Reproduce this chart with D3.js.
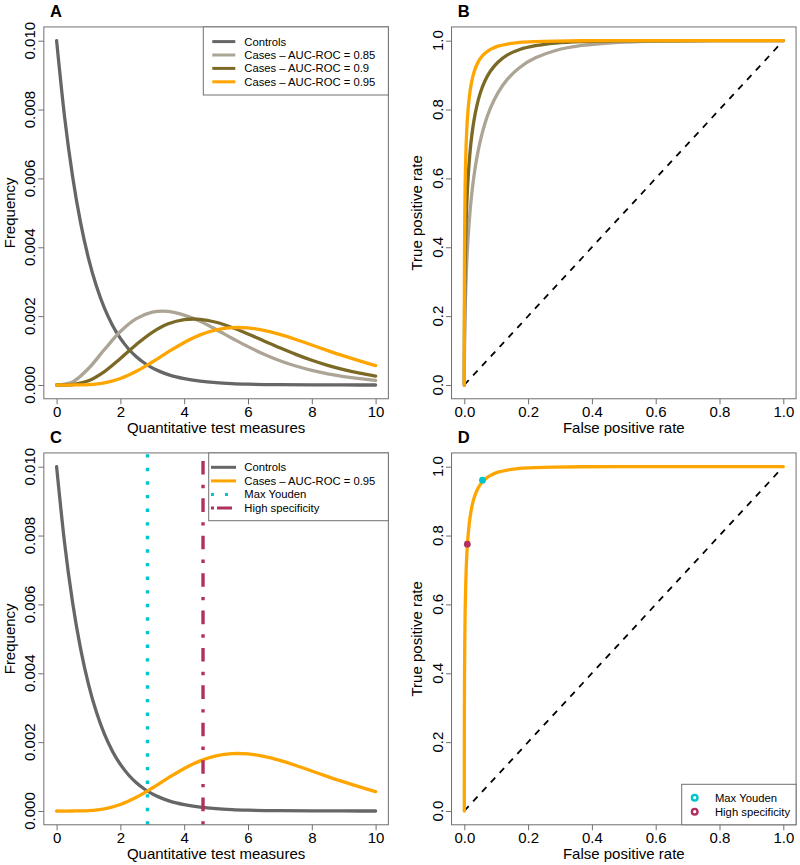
<!DOCTYPE html>
<html><head><meta charset="utf-8">
<script src="https://cdn.jsdelivr.net/npm/d3@7"></script>
<style>
body{margin:0;background:#fff}
svg{display:block}
text{font-family:"Liberation Sans",Arial,Helvetica,sans-serif}
</style>
</head><body>
<svg id="chart" width="800" height="865"></svg>
<script>
// ---------------- DATA ----------------
// Density panels (A, C)
const controlsX = [0,0.25,0.5,0.75,1,1.25,1.5,1.75,2,2.25,2.5,2.75,3,3.25,3.5,3.75,4,4.5,5,5.5,6,7,8,9,10];
const controls  = [0.01,0.007788,0.006065,0.004724,0.003679,0.002865,0.002231,0.001738,0.001353,0.001054,0.000821,0.000639,0.000498,0.000388,0.000302,0.000235,0.000183,0.000111,0.000067,0.000041,0.000025,0.000009,0.000003,0.000001,0.0000005];
const casesX    = [0,0.5,1,1.5,2,2.5,3,3.5,4,4.5,5,5.5,6,6.5,7,7.5,8,8.5,9,9.5,10];
const cases085  = [0,0.000090,0.000480,0.001030,0.001552,0.001926,0.002118,0.002140,0.002030,0.001850,0.001610,0.001360,0.001115,0.000895,0.000706,0.000551,0.000425,0.000323,0.000244,0.000182,0.000135];
const cases090  = [0,0.000012,0.000123,0.000389,0.000770,0.001178,0.001531,0.001778,0.001900,0.001908,0.001822,0.001671,0.001484,0.001281,0.001080,0.000890,0.000718,0.000570,0.000445,0.000343,0.000258];
const cases095  = [0,0.000000,0.000011,0.000063,0.000189,0.000398,0.000668,0.000962,0.001236,0.001456,0.001600,0.001665,0.001657,0.001586,0.001468,0.001323,0.001162,0.001000,0.000844,0.000700,0.000565];
const densXTicks = [0,2,4,6,8,10];
const densYTicks = [0,0.002,0.004,0.006,0.008,0.010];

// ROC panels (B, D)
const rocFPR    = [1,0.7788,0.6065,0.4724,0.3679,0.2865,0.2231,0.1738,0.1353,0.1054,0.0821,0.0639,0.0498,0.0388,0.0302,0.0235,0.0183,0.0111,0.0067,0.0041,0.0025,0.0009,0.0003,0.0001,0.00005,0.000006,0];
const roc085TPR = [1,1.0000,0.9989,0.9947,0.9861,0.9716,0.9502,0.9223,0.8883,0.8487,0.8046,0.7575,0.7079,0.6574,0.6064,0.5563,0.5076,0.4161,0.3345,0.2650,0.2069,0.1215,0.0686,0.0375,0.0199,0.0053,0];
const roc090TPR = [1,1.0000,0.9999,0.9992,0.9974,0.9930,0.9855,0.9745,0.9587,0.9375,0.9119,0.8815,0.8472,0.8088,0.7679,0.7247,0.6800,0.5886,0.4999,0.4164,0.3410,0.2189,0.1337,0.0783,0.0443,0.0130,0];
const roc095TPR = [1,1.0000,1.0000,1.0000,0.9998,0.9989,0.9975,0.9951,0.9904,0.9842,0.9748,0.9631,0.9479,0.9295,0.9078,0.8827,0.8549,0.7912,0.7197,0.6435,0.5712,0.4198,0.2953,0.1987,0.1281,0.0485,0];
const diagX = [0,1];
const diagY = [0,1];
const rocTicks = [0,0.2,0.4,0.6,0.8,1.0];

// Cut-offs
const cutoffNames = ["Max Youden","High specificity"];
const cutoffValues = [2.85, 4.59];
const cutoffFPR = [0.057, 0.0095];
const cutoffTPR = [0.961, 0.775];

const legendA = ["Controls","Cases \u2013 AUC-ROC = 0.85","Cases \u2013 AUC-ROC = 0.9","Cases \u2013 AUC-ROC = 0.95"];
const legendC = ["Controls","Cases \u2013 AUC-ROC = 0.95","Max Youden","High specificity"];

// ---------------- STYLE ----------------
const COL = {controls:"#666666", c085:"#aca495", c090:"#7b6a25", c095:"#ffa500", youden:"#00c5cd", spec:"#b03060", frame:"#707070"};
const LW = 3.3;
const dotted = "3.4,10.2";
const dotdash = "3.4,10.2,13.6,10.2";

const svg = d3.select("#chart");

function makePanel(id, ox, oy, label, xDom, yDom, xTicks, yTicks, xFmt, yFmt, xTitle, yTitle){
  const g = svg.append("g").attr("transform",`translate(${ox},${oy})`);
  const x = d3.scaleLinear().domain(xDom).range([56.6,375.6]);
  const y = d3.scaleLinear().domain(yDom).range([385,40.7]);
  const xs = xDom[1]-xDom[0], ys = yDom[1]-yDom[0];
  const bx0 = x(xDom[0]-0.04*xs), bx1 = x(xDom[1]+0.04*xs);
  const by0 = y(yDom[0]-0.04*ys), by1 = y(yDom[1]+0.04*ys);
  g.append("clipPath").attr("id","clip"+id).append("rect")
    .attr("x",bx0).attr("y",by1).attr("width",bx1-bx0).attr("height",by0-by1);
  const plot = g.append("g").attr("clip-path",`url(#clip${id})`);

  // x axis
  const xa = g.append("g").attr("transform",`translate(0,${by0})`)
    .call(d3.axisBottom(x).tickValues(xTicks).tickFormat(xFmt).tickSize(5.5).tickPadding(1.8));
  xa.select(".domain").remove();
  xa.selectAll(".tick line").attr("stroke",COL.frame);
  xa.selectAll(".tick text").attr("font-size",15).attr("fill","#000")
    .attr("font-family",'"Liberation Sans",Arial,sans-serif');
  // y axis
  const ya = g.append("g").attr("transform",`translate(${bx0},0)`)
    .call(d3.axisLeft(y).tickValues(yTicks).tickFormat("").tickSize(5.5));
  ya.select(".domain").remove();
  ya.selectAll(".tick line").attr("stroke",COL.frame);
  g.selectAll(".ylab").data(yTicks).enter().append("text")
    .attr("transform",d=>`translate(${bx0-8.9},${y(d)}) rotate(-90)`)
    .attr("text-anchor","middle").attr("font-size",15).text(yFmt);

  g.append("text").attr("x",(bx0+bx1)/2).attr("y",by0+34.7)
    .attr("text-anchor","middle").attr("font-size",15).text(xTitle);
  g.append("text").attr("transform",`translate(14.5,${(by0+by1)/2}) rotate(-90)`)
    .attr("text-anchor","middle").attr("font-size",15).text(yTitle);
  g.append("text").attr("x",50).attr("y",16.7).attr("font-size",16.5)
    .attr("font-weight","bold").text(label);

  return {g, plot, x, y, bx0, bx1, by0, by1};
}

function drawLine(p, xs, ys, color, width, curve, dash){
  const data = xs.map((d,i)=>[d,ys[i]]);
  const path = p.plot.append("path").datum(data)
    .attr("fill","none").attr("stroke",color).attr("stroke-width",width)
    .attr("stroke-linejoin","round").attr("stroke-linecap","round")
    .attr("d", d3.line().x(d=>p.x(d[0])).y(d=>p.y(d[1])).curve(curve || d3.curveLinear));
  if(dash){ path.attr("stroke-dasharray",dash).attr("stroke-linecap","butt"); }
  return path;
}

function frame(p){
  p.g.append("rect").attr("x",p.bx0).attr("y",p.by1).attr("width",p.bx1-p.bx0).attr("height",p.by0-p.by1)
    .attr("fill","none").attr("stroke",COL.frame).attr("stroke-width",1);
}

const fmt3 = d3.format(".3f"), fmt1 = d3.format(".1f"), fmtInt = d3.format("d");
const smooth = d3.curveCatmullRom.alpha(0.5);

// ---------- Panel A ----------
const A = makePanel("A",0,0,"A",[0,10],[0,0.01],densXTicks,densYTicks,fmtInt,fmt3,
  "Quantitative test measures","Frequency");
drawLine(A, controlsX, controls, COL.controls, LW, d3.curveMonotoneX);
drawLine(A, casesX, cases085, COL.c085, LW, smooth);
drawLine(A, casesX, cases090, COL.c090, LW, smooth);
drawLine(A, casesX, cases095, COL.c095, LW, smooth);
frame(A);
{
  const lg = A.g.append("g");
  lg.append("rect").attr("x",203.3).attr("y",A.by1).attr("width",A.bx1-203.3).attr("height",95-A.by1)
    .attr("fill","#fff").attr("stroke",COL.frame);
  const cols = [COL.controls,COL.c085,COL.c090,COL.c095];
  legendA.forEach((t,i)=>{
    const yy = 41.6+13.4*i;
    lg.append("line").attr("x1",212.3).attr("x2",235.3).attr("y1",yy).attr("y2",yy)
      .attr("stroke",cols[i]).attr("stroke-width",3);
    lg.append("text").attr("x",244.3).attr("y",yy).attr("dy","0.35em").attr("font-size",11.25).text(t);
  });
}

// ---------- Panel B ----------
const B = makePanel("B",407.7,0,"B",[0,1],[0,1],rocTicks,rocTicks,fmt1,fmt1,
  "False positive rate","True positive rate");
drawLine(B, diagX, diagY, "#000", 1.8, d3.curveLinear, "6.5,6.5");
drawLine(B, rocFPR, roc085TPR, COL.c085, LW, smooth);
drawLine(B, rocFPR, roc090TPR, COL.c090, LW, smooth);
drawLine(B, rocFPR, roc095TPR, COL.c095, LW, smooth);
frame(B);

// ---------- Panel C ----------
const C = makePanel("C",0,426,"C",[0,10],[0,0.01],densXTicks,densYTicks,fmtInt,fmt3,
  "Quantitative test measures","Frequency");
drawLine(C, controlsX, controls, COL.controls, LW, d3.curveMonotoneX);
drawLine(C, casesX, cases095, COL.c095, LW, smooth);
[COL.youden, COL.spec].forEach((c,i)=>{
  const v = cutoffValues[i];
  C.plot.append("path").attr("d",`M${C.x(v)},${C.by0}L${C.x(v)},${C.by1}`)
    .attr("stroke",c).attr("stroke-width",3.4).attr("fill","none")
    .attr("stroke-dasharray", i===0?dotted:dotdash);
});
frame(C);
{
  const lg = C.g.append("g");
  lg.append("rect").attr("x",208.7).attr("y",C.by1).attr("width",C.bx1-208.7).attr("height",94.7-C.by1)
    .attr("fill","#fff").attr("stroke",COL.frame);
  const cols = [COL.controls,COL.c095,COL.youden,COL.spec];
  const dashes = [null,null,"3,11","3,3,15,10"];
  legendC.forEach((t,i)=>{
    const yy = 41.3+13.6*i;
    const ln = lg.append("path").attr("d",`M211,${yy}L236,${yy}`)
      .attr("stroke",cols[i]).attr("stroke-width",3).attr("fill","none");
    if(dashes[i]) ln.attr("stroke-dasharray",dashes[i]);
    lg.append("text").attr("x",244.3).attr("y",yy).attr("dy","0.35em").attr("font-size",11.25).text(t);
  });
}

// ---------- Panel D ----------
const D = makePanel("D",407.7,426,"D",[0,1],[0,1],rocTicks,rocTicks,fmt1,fmt1,
  "False positive rate","True positive rate");
drawLine(D, diagX, diagY, "#000", 1.8, d3.curveLinear, "6.5,6.5");
drawLine(D, rocFPR, roc095TPR, COL.c095, LW, smooth);
D.plot.selectAll(".cut").data(cutoffFPR).enter().append("circle")
  .attr("cx",d=>D.x(d)).attr("cy",(d,i)=>D.y(cutoffTPR[i])).attr("r",3.4)
  .attr("fill",(d,i)=>i===0?COL.youden:COL.spec);
frame(D);
{
  const lg = D.g.append("g");
  lg.append("rect").attr("x",274).attr("y",358.3).attr("width",D.bx1-274).attr("height",D.by0-358.3)
    .attr("fill","#fff").attr("stroke",COL.frame);
  const cols = [COL.youden, COL.spec];
  cutoffNames.forEach((t,i)=>{
    const yy = 371.7+14*i;
    lg.append("circle").attr("cx",287).attr("cy",yy).attr("r",2.8)
      .attr("fill","#fff").attr("stroke",cols[i]).attr("stroke-width",2.4);
    lg.append("text").attr("x",307.3).attr("y",yy).attr("dy","0.35em").attr("font-size",11.25).text(t);
  });
}
</script>
</body></html>
